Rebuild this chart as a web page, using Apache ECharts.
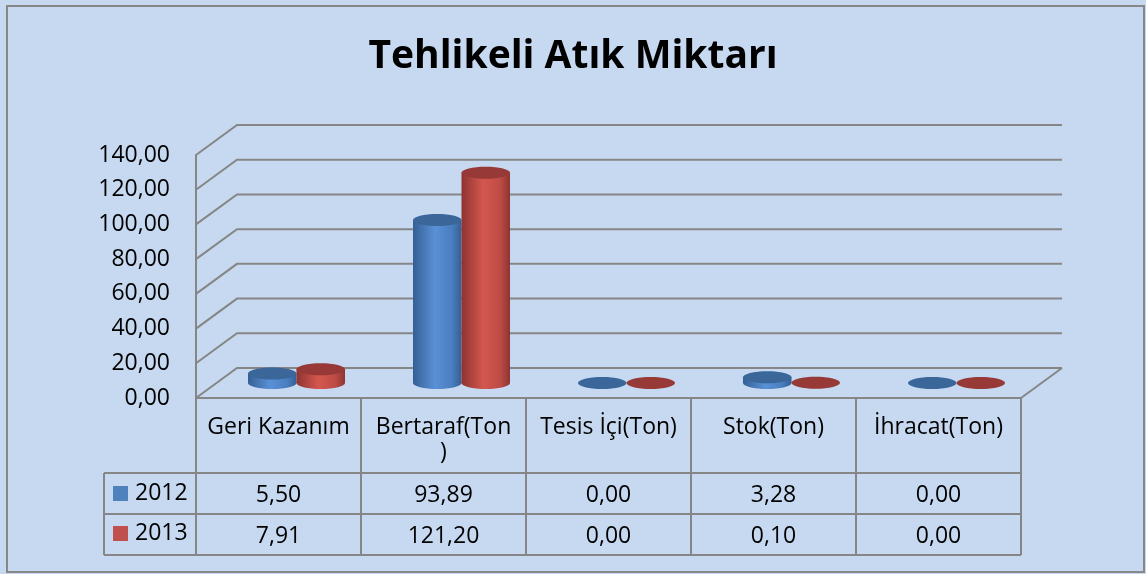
<!DOCTYPE html>
<html>
<head>
<meta charset="utf-8">
<script src="https://cdn.jsdelivr.net/npm/echarts@6/dist/echarts.min.js"></script>
<style>
  html, body { margin: 0; padding: 0; background: #C6D9F1; }
  #main { width: 1146px; height: 574px; }
</style>
</head>
<body>
<div id="main"></div>
<script>
// veriler
const categories = ['Geri Kazanım', 'Bertaraf(Ton)', 'Tesis İçi(Ton)', 'Stok(Ton)', 'İhracat(Ton)'];
// tablo başlığında görünen etiketler (Excel "Bertaraf(Ton)" satırını kırmış)
const headerLabels = ['Geri Kazanım', 'Bertaraf(Ton\n)', 'Tesis İçi(Ton)', 'Stok(Ton)', 'İhracat(Ton)'];
const values2012 = [5.50, 93.89, 0.00, 3.28, 0.00];
const values2013 = [7.91, 121.20, 0.00, 0.10, 0.00];
const yTicks = [0, 20, 40, 60, 80, 100, 120, 140];

const FONT = 'Open Sans';
const GRID_COLOR = '#868686';
const BACK_DX = 41, BACK_DY = -30;   // arka duvar kaydırması
const MID_DX = 18, MID_DY = -15;     // silindirlerin derinliği

const fmt = v => v.toFixed(2).replace('.', ',');

const blue = { light: '#5A90D6', mid: '#4A7EC0', dark: '#355F94', top: '#3A6699' };
const red = { light: '#D4574F', mid: '#BE4B45', dark: '#8E3431', top: '#973A37' };

var chart = echarts.init(document.getElementById('main'));

// duvarlar ve ızgara çizgileri
function renderWalls(params, api) {
    const cs = params.coordSys;
    const y = api.coord([0, api.value(1)])[1];
    const x0 = cs.x, x1 = cs.x + cs.width;
    const style = { stroke: GRID_COLOR, lineWidth: 2, fill: null };
    const children = [{
        type: 'polyline',
        shape: { points: [[x0, y], [x0 + BACK_DX, y + BACK_DY], [x1 + BACK_DX, y + BACK_DY]] },
        style: style
    }];
    if (api.value(1) === 0) {
        children.push({
            type: 'line',
            shape: { x1: x1, y1: y, x2: x1 + BACK_DX, y2: y + BACK_DY },
            style: style
        });
    }
    return { type: 'group', children: children };
}

// silindir
function makeCylinder(side, c) {
    return function (params, api) {
        const i = api.value(0), v = api.value(1);
        const top = api.coord([i, v]);
        const base = api.coord([i, 0]);
        const band = api.size([1, 0])[0];
        const rx = band * 0.147;
        const ry = 6;
        const cx = top[0] + MID_DX + side * rx;
        const yTop = top[1] + MID_DY, yBase = base[1] + MID_DY;
        const grad = new echarts.graphic.LinearGradient(0, 0, 1, 0, [
            { offset: 0, color: c.dark },
            { offset: 0.45, color: c.light },
            { offset: 0.8, color: c.mid },
            { offset: 1, color: c.dark }
        ]);
        const children = [];
        if (yBase - yTop > 0.5) {
            children.push({
                type: 'ellipse',
                shape: { cx: cx, cy: yBase, rx: rx, ry: ry },
                style: { fill: grad }
            });
            children.push({
                type: 'rect',
                shape: { x: cx - rx, y: yTop, width: rx * 2, height: yBase - yTop },
                style: { fill: grad }
            });
        }
        children.push({
            type: 'ellipse',
            shape: { cx: cx, cy: yTop, rx: rx, ry: ry },
            style: { fill: c.top }
        });
        return { type: 'group', children: children };
    };
}

// veri tablosu
function renderTable(params, api) {
    const i = api.value(0);
    const center = api.coord([i, 0]);
    const band = api.size([1, 0])[0];
    const xl = center[0] - band / 2, xr = center[0] + band / 2;
    const y0 = center[1];
    const rows = [y0 + 75, y0 + 116, y0 + 157];
    const lineStyle = { stroke: GRID_COLOR, lineWidth: 2 };
    const children = [];
    children.push({ type: 'line', shape: { x1: xl, y1: y0, x2: xl, y2: rows[2] }, style: lineStyle });
    children.push({ type: 'line', shape: { x1: xr, y1: y0, x2: xr, y2: rows[2] }, style: lineStyle });
    rows.forEach(function (ry) {
        children.push({ type: 'line', shape: { x1: xl, y1: ry, x2: xr, y2: ry }, style: lineStyle });
    });
    if (i === 0) {
        const lx = xl - 92;
        children.push({ type: 'line', shape: { x1: lx, y1: rows[0], x2: lx, y2: rows[2] }, style: lineStyle });
        rows.forEach(function (ry) {
            children.push({ type: 'line', shape: { x1: lx, y1: ry, x2: xl, y2: ry }, style: lineStyle });
        });
    }
    [values2012[i], values2013[i]].forEach(function (v, k) {
        children.push({
            type: 'text',
            style: {
                x: center[0], y: (rows[k] + rows[k + 1]) / 2 + 2,
                text: fmt(v), align: 'center', verticalAlign: 'middle',
                fontSize: 23, fontFamily: FONT, fill: '#000'
            }
        });
    });
    return { type: 'group', children: children };
}

chart.setOption({
    backgroundColor: '#C6D9F1',
    animation: false,
    title: {
        text: 'Tehlikeli Atık Miktarı',
        left: 'center',
        top: 32,
        textStyle: { fontSize: 39, fontWeight: 'bold', fontFamily: FONT, color: '#000' }
    },
    legend: {
        orient: 'vertical',
        left: 113,
        top: 482,
        padding: 0,
        itemWidth: 15,
        itemHeight: 15,
        itemGap: 17,
        selectedMode: false,
        textStyle: { fontSize: 23, fontFamily: FONT, color: '#000', padding: [4, 0, 0, 2] },
        data: [
            { name: '2012', icon: 'rect', itemStyle: { color: '#4F81BD' } },
            { name: '2013', icon: 'rect', itemStyle: { color: '#C0504D' } }
        ]
    },
    graphic: [{
        type: 'rect',
        shape: { x: 7, y: 6, width: 1137, height: 566 },
        style: { fill: null, stroke: '#878787', lineWidth: 2 },
        silent: true
    }],
    grid: { left: 196, right: 125, top: 155, bottom: 176 },
    xAxis: {
        type: 'category',
        data: categories,
        axisLine: { lineStyle: { color: GRID_COLOR, width: 2 } },
        axisTick: { show: false },
        splitLine: { show: false },
        axisLabel: {
            interval: 0,
            margin: 17,
            fontSize: 23,
            fontFamily: FONT,
            color: '#000',
            lineHeight: 25,
            verticalAlign: 'top',
            formatter: (value, idx) => headerLabels[idx]
        }
    },
    yAxis: {
        type: 'value',
        min: 0,
        max: 140,
        interval: 20,
        axisLine: { show: true, lineStyle: { color: GRID_COLOR, width: 2 } },
        axisTick: { show: false },
        splitLine: { show: false },
        axisLabel: {
            margin: 26,
            fontSize: 23,
            fontFamily: FONT,
            color: '#000',
            padding: [5, 0, 0, 0],
            formatter: fmt
        }
    },
    series: [
        {
            name: 'walls',
            type: 'custom',
            silent: true,
            z: 1,
            renderItem: renderWalls,
            data: yTicks.map(v => [0, v])
        },
        {
            name: '2012',
            type: 'custom',
            z: 3,
            itemStyle: { color: '#4F81BD' },
            renderItem: makeCylinder(-1, blue),
            data: values2012.map((v, i) => [i, v])
        },
        {
            name: '2013',
            type: 'custom',
            z: 3,
            itemStyle: { color: '#C0504D' },
            renderItem: makeCylinder(1, red),
            data: values2013.map((v, i) => [i, v])
        },
        {
            name: 'table',
            type: 'custom',
            silent: true,
            z: 2,
            renderItem: renderTable,
            data: categories.map((c, i) => [i, 0])
        }
    ]
});
</script>
</body>
</html>
